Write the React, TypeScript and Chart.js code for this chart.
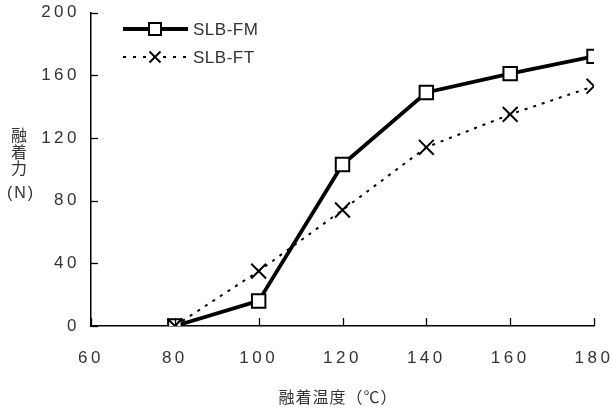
import React, { useEffect, useRef } from 'react';
import { Chart, registerables } from 'chart.js';

Chart.register(...registerables);

const temperatures = [80, 100, 120, 140, 160, 180];
const fmValues = [0, 16, 103, 149, 161, 172];
const ftValues = [0, 35, 74, 114, 135, 153];
const seriesNames = ['SLB-FM', 'SLB-FT'];
const xTitle = '融着温度（℃）';
const yTitleParts = ['融', '着', '力', '(N)'];
const xMin = 60;
const xMax = 180;
const yMin = 0;
const yMax = 200;
const xStep = 20;
const yStep = 40;

const TEXT = '#333';
const TICK_FONT = '"Liberation Sans", Arial, sans-serif';
const CJK_FONT = '"Noto Sans CJK JP", "Noto Sans", sans-serif';

const decor = {
  id: 'decor',
  beforeDraw(chart: any) {
    chart.ctx.letterSpacing = '3.5px';
  },
  afterDraw(chart: any) {
    const ctx = chart.ctx as CanvasRenderingContext2D;
    const { left, bottom } = chart.chartArea;
    const xs = chart.scales.x;
    const ys = chart.scales.y;
    ctx.save();
    (ctx as any).letterSpacing = '0px';
    ctx.strokeStyle = '#000';
    ctx.lineWidth = 1.3;
    ctx.setLineDash([]);
    xs.ticks.forEach((t: any) => {
      const px = Math.round(xs.getPixelForValue(t.value)) + 0.5;
      ctx.beginPath();
      ctx.moveTo(px, bottom);
      ctx.lineTo(px, bottom - 8);
      ctx.stroke();
    });
    ys.ticks.forEach((t: any) => {
      const py = Math.round(ys.getPixelForValue(t.value)) + 0.5;
      ctx.beginPath();
      ctx.moveTo(left, py);
      ctx.lineTo(left + 7, py);
      ctx.stroke();
    });

    // axis titles
    ctx.fillStyle = TEXT;
    ctx.textAlign = 'center';
    ctx.textBaseline = 'middle';
    ctx.font = `16px ${CJK_FONT}`;
    (ctx as any).letterSpacing = '1px';
    ctx.fillText(xTitle, 338, 397);
    (ctx as any).letterSpacing = '0px';
    const yPos = [135, 152, 168];
    yTitleParts.slice(0, 3).forEach((c, i) => ctx.fillText(c, 19, yPos[i]));
    ctx.font = `16px ${TICK_FONT}`;
    (ctx as any).letterSpacing = '2px';
    ctx.fillText(yTitleParts[3], 21, 194);

    // legend
    const ds = chart.data.datasets;
    const rows = [29, 57];
    const legendDash = [3, 7];
    (ctx as any).letterSpacing = '0.5px';
    ds.forEach((d: any, i: number) => {
      const y = rows[i];
      ctx.strokeStyle = '#000';
      ctx.lineWidth = d.borderWidth;
      ctx.setLineDash(d.borderDash ? legendDash : []);
      ctx.beginPath();
      ctx.moveTo(123, y);
      ctx.lineTo(188, y);
      ctx.stroke();
      ctx.setLineDash([]);
      ctx.lineWidth = d.pointBorderWidth;
      if (d.pointStyle === 'rect') {
        const s = 6;
        ctx.fillStyle = '#fff';
        ctx.fillRect(155 - s, y - s, 2 * s, 2 * s);
        ctx.strokeRect(155 - s, y - s, 2 * s, 2 * s);
      } else {
        const o = 5.5;
        ctx.beginPath();
        ctx.moveTo(155 - o, y - o);
        ctx.lineTo(155 + o, y + o);
        ctx.moveTo(155 - o, y + o);
        ctx.lineTo(155 + o, y - o);
        ctx.stroke();
      }
      ctx.fillStyle = TEXT;
      ctx.textAlign = 'left';
      ctx.font = `17px ${TICK_FONT}`;
      ctx.fillText(d.label, 193, y + 1);
    });
    ctx.restore();
  },
};

export default function App() {
  const ref = useRef<HTMLCanvasElement>(null);
  useEffect(() => {
    if (!ref.current) return;
    const chart = new Chart(ref.current, {
      type: 'line',
      data: {
        datasets: [
          {
            label: seriesNames[0],
            data: temperatures.map((t, i) => ({ x: t, y: fmValues[i] })),
            borderColor: '#000',
            borderWidth: 3.8,
            pointStyle: 'rect',
            pointRadius: 9.5,
            pointBorderWidth: 2,
            pointBackgroundColor: '#fff',
            pointBorderColor: '#000',
            fill: false,
            tension: 0,
            order: 1,
          } as any,
          {
            label: seriesNames[1],
            data: temperatures.map((t, i) => ({ x: t, y: ftValues[i] })),
            borderColor: '#000',
            borderWidth: 2,
            borderDash: [3, 6],
            pointStyle: 'crossRot',
            pointRadius: 10.5,
            pointBorderWidth: 2,
            pointBorderColor: '#000',
            fill: false,
            tension: 0,
            order: 0,
          } as any,
        ],
      },
      options: {
        animation: false,
        responsive: true,
        maintainAspectRatio: false,
        layout: { padding: { top: 11, right: 19, left: 0, bottom: 0 } },
        plugins: { legend: { display: false }, tooltip: { enabled: false } },
        scales: {
          x: {
            type: 'linear',
            min: xMin,
            max: xMax,
            grid: { display: false, drawTicks: false },
            border: { display: true, color: '#000', width: 1.5 },
            ticks: {
              stepSize: xStep,
              color: TEXT,
              font: { family: TICK_FONT, size: 17 },
              padding: 22,
              maxRotation: 0,
            },
            afterFit: (s: any) => {
              s.height = 88;
              s.paddingLeft = 0;
              s.paddingRight = 0;
            },
          },
          y: {
            type: 'linear',
            min: yMin,
            max: yMax,
            grid: { display: false, drawTicks: false },
            border: { display: true, color: '#000', width: 1.5 },
            ticks: {
              stepSize: yStep,
              color: TEXT,
              font: { family: TICK_FONT, size: 17 },
              padding: 11,
            },
            afterFit: (s: any) => {
              s.width = 91;
              s.paddingTop = 0;
              s.paddingBottom = 0;
            },
          },
        },
      },
      plugins: [decor],
    });
    return () => chart.destroy();
  }, []);
  return (
    <div style={{ position: 'fixed', left: 0, top: 0, width: 613, height: 414, background: '#fff' }}>
      <canvas ref={ref} />
    </div>
  );
}
